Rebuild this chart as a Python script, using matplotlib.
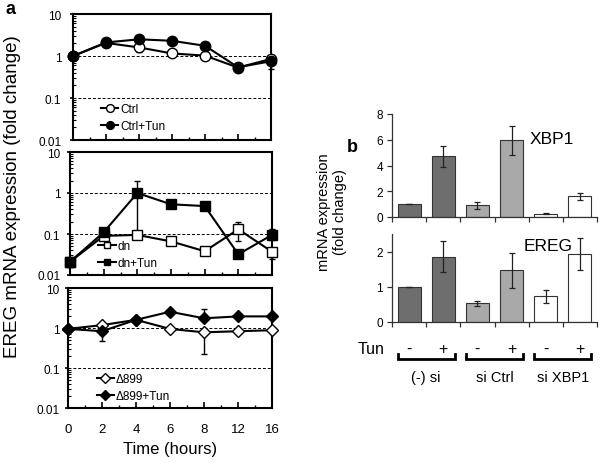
import numpy as np
import matplotlib
matplotlib.use("Agg")
import matplotlib.pyplot as plt
from matplotlib.ticker import FixedLocator, LogLocator, NullFormatter, FuncFormatter
from matplotlib.legend_handler import HandlerLine2D
import matplotlib.transforms as mtransforms

plt.rcParams['font.family'] = ['Liberation Sans', 'DejaVu Sans']

# ---- panel a data (time course, log scale) ----
time_labels = ["0", "2", "4", "6", "8", "12", "16"]

ctrl = [1.0, 2.05, 1.6, 1.15, 1.02, 0.53, 0.85]
ctrl_lo = [1.0, 2.05, 1.25, 1.15, 1.02, 0.53, 0.85]
ctrl_hi = [1.0, 2.05, 1.6, 1.15, 1.02, 0.53, 0.85]
ctrl_tun = [1.0, 2.1, 2.5, 2.3, 1.75, 0.54, 0.75]
ctrl_tun_lo = [1.0, 2.1, 2.5, 2.3, 1.75, 0.54, 0.5]
ctrl_tun_hi = [1.0, 2.1, 2.5, 2.3, 1.75, 0.54, 0.75]

dn = [0.021, 0.09, 0.095, 0.066, 0.038, 0.13, 0.037]
dn_lo = [0.021, 0.09, 0.095, 0.066, 0.038, 0.068, 0.025]
dn_hi = [0.021, 0.09, 0.095, 0.066, 0.038, 0.195, 0.037]
dn_tun = [0.021, 0.11, 1.0, 0.53, 0.48, 0.032, 0.095]
dn_tun_lo = [0.016, 0.11, 0.1, 0.53, 0.43, 0.027, 0.07]
dn_tun_hi = [0.021, 0.11, 1.95, 0.53, 0.48, 0.032, 0.13]

d899 = [0.95, 1.18, 1.6, 0.95, 0.78, 0.83, 0.88]
d899_lo = [0.95, 1.18, 1.6, 0.95, 0.22, 0.83, 0.88]
d899_hi = [0.95, 1.18, 1.6, 0.95, 0.78, 0.83, 0.88]
d899_tun = [0.95, 0.83, 1.6, 2.55, 1.75, 1.95, 1.95]
d899_tun_lo = [0.95, 0.48, 1.6, 2.55, 1.75, 1.95, 1.95]
d899_tun_hi = [0.95, 0.83, 1.6, 2.55, 3.0, 1.95, 1.95]

# ---- panel b data (bars) ----
bar_groups = ["(-) si", "si Ctrl", "si XBP1"]
tun_signs = ["-", "+", "-", "+", "-", "+"]
xbp1 = [1.0, 4.7, 0.9, 5.95, 0.25, 1.6]
xbp1_err = [0.0, 0.8, 0.3, 1.15, 0.05, 0.28]
ereg = [1.0, 1.85, 0.53, 1.47, 0.73, 1.93]
ereg_err = [0.0, 0.44, 0.08, 0.49, 0.18, 0.45]
bar_colors = ["#6e6e6e", "#6e6e6e", "#a9a9a9", "#a9a9a9", "#ffffff", "#ffffff"]

W, H = 600, 464
fig = plt.figure(figsize=(6.0, 4.64), dpi=100)


class MarkerAtEnd(HandlerLine2D):
    # legend handle drawn as "--o": marker near the right end of the line
    def get_xdata(self, legend, xdescent, ydescent, width, height, fontsize):
        xdata = np.array([-xdescent, -xdescent + width])
        return xdata, np.array([-xdescent + width * 0.78])


def px_axes(x0, y0, x1, y1):
    return fig.add_axes([x0 / W, 1 - y1 / H, (x1 - x0) / W, (y1 - y0) / H])


def log_panel(ax, series, legend_pos, ypad, show_x=False):
    x = np.arange(len(time_labels))
    ax.set_yscale("log")
    ax.set_ylim(0.01, 10)
    ax.set_xlim(0, len(time_labels) - 1)
    for yv in (0.1, 1):
        ax.axhline(yv, color="black", lw=0.7, ls=(0, (3, 2)), zorder=1)
    handles = []
    for vals, lo, hi, marker, filled, ms, label in series:
        vals = np.array(vals)
        yerr = [vals - np.array(lo), np.array(hi) - vals]
        ax.errorbar(x, vals, yerr=yerr, fmt="none", ecolor="black",
                    elinewidth=1.0, capsize=2, capthick=1.0, zorder=2, clip_on=False)
        h, = ax.plot(x, vals, color="black", lw=1.5, marker=marker, ms=ms,
                     mfc="black" if filled else "white", mec="black", mew=1.0,
                     zorder=3 if not filled else 4, clip_on=False, label=label)
        handles.append(h)
    ax.legend(handles=handles, loc="lower left", bbox_to_anchor=legend_pos,
              frameon=False, fontsize=8.5, handlelength=1.5, handletextpad=0.15,
              labelspacing=0.42, borderpad=0, borderaxespad=0, numpoints=1,
              markerscale=0.75, handler_map={h: MarkerAtEnd() for h in handles})
    for s in ax.spines.values():
        s.set_linewidth(1.5)
    ax.yaxis.set_major_locator(FixedLocator([0.01, 0.1, 1, 10]))
    ax.yaxis.set_major_formatter(FuncFormatter(lambda v, p: "%g" % v))
    ax.yaxis.set_minor_locator(LogLocator(base=10, subs=np.arange(2, 10)))
    ax.yaxis.set_minor_formatter(NullFormatter())
    ax.tick_params(axis="y", which="major", direction="out", length=2, width=1.2,
                   labelsize=8.5, pad=ypad)
    ax.tick_params(axis="y", which="minor", direction="in", length=2, width=0.8)
    ax.xaxis.set_major_locator(FixedLocator(x))
    ax.xaxis.set_minor_locator(FixedLocator(x[:-1] + 0.5))
    ax.tick_params(axis="x", which="major", direction="in", length=4, width=1.2,
                   labelsize=9.5, pad=11)
    ax.tick_params(axis="x", which="minor", direction="in", length=2.5, width=1.0)
    if show_x:
        ax.set_xticklabels(time_labels)
    else:
        ax.set_xticklabels([])


ax1 = px_axes(73, 15, 271, 141)
log_panel(ax1, [
    (ctrl, ctrl_lo, ctrl_hi, "o", False, 7.5, "Ctrl"),
    (ctrl_tun, ctrl_tun_lo, ctrl_tun_hi, "o", True, 7.5, "Ctrl+Tun"),
], (0.14, 0.06), 6.5)

ax2 = px_axes(70, 153, 272, 276)
log_panel(ax2, [
    (dn, dn_lo, dn_hi, "s", False, 6.5, "dn"),
    (dn_tun, dn_tun_lo, dn_tun_hi, "s", True, 6.5, "dn+Tun"),
], (0.14, 0.05), 5)

ax3 = px_axes(68, 289, 272, 409)
log_panel(ax3, [
    (d899, d899_lo, d899_hi, "D", False, 6.5, "\u0394899"),
    (d899_tun, d899_tun_lo, d899_tun_hi, "D", True, 6.5, "\u0394899+Tun"),
], (0.14, 0.05), 4, show_x=True)
ax3.set_xlabel("Time (hours)", fontsize=12, labelpad=4)

fig.text(13 / W, 1 - 197 / H, "EREG mRNA expression (fold change)", rotation=90,
         ha="center", va="center", fontsize=13.5)
fig.text(11 / W, 1 - 9 / H, "a", fontsize=13, fontweight="bold", ha="center", va="center")
fig.text(352 / W, 1 - 148 / H, "b", fontsize=13, fontweight="bold", ha="center", va="center")

# ---- panel b ----
def bar_panel(ax, vals, errs, ymax, yticks, title, title_xy):
    xb = np.arange(len(vals))
    ax.bar(xb, vals, width=0.67, color=bar_colors, edgecolor="#333333", linewidth=0.8,
           yerr=errs, error_kw=dict(ecolor="#222222", elinewidth=0.9, capsize=2, capthick=0.9))
    ax.set_xlim(-0.5, len(vals) - 0.5)
    ax.set_ylim(0, ymax)
    ax.set_yticks(yticks)
    ax.set_xticks(np.arange(len(vals) + 1) - 0.5)
    ax.set_xticklabels([])
    for side in ("top", "right"):
        ax.spines[side].set_visible(False)
    for side in ("left", "bottom"):
        ax.spines[side].set_linewidth(0.9)
        ax.spines[side].set_color("#333333")
    ax.tick_params(axis="both", direction="out", length=3.5, width=0.9, color="#333333",
                   labelsize=8.5, pad=3)
    ax.text(title_xy[0], title_xy[1], title, transform=ax.transAxes, fontsize=12.5,
            ha="left", va="center")
    return xb


axX = px_axes(392, 115, 597, 218)
bar_panel(axX, xbp1, xbp1_err, 8, [0, 2, 4, 6, 8], "XBP1", (0.67, 0.76))

axE = px_axes(392, 235, 597, 323)
xb = bar_panel(axE, ereg, ereg_err, 2.5, [0, 1, 2], "EREG", (0.64, 0.87))

fig.text(332 / W, 1 - 212 / H, "mRNA expression\n(fold change)", rotation=90,
         ha="center", va="center", fontsize=10.5, linespacing=1.1, multialignment="center")

# Tun row and group brackets under the bottom bar panel
trans = mtransforms.blended_transform_factory(axE.transData, axE.transAxes)
axE.text(-1.12, -0.30, "Tun", transform=trans, fontsize=11.5, ha="center", va="center")
for xi, s in zip(xb, tun_signs):
    axE.text(xi, -0.30, s, transform=trans, fontsize=11.5, ha="center", va="center")
for gi, name in enumerate(bar_groups):
    left, right = xb[2 * gi] - 0.33, xb[2 * gi + 1] + 0.33
    axE.plot([left, left, right, right], [-0.36, -0.42, -0.42, -0.36], transform=trans,
             color="black", lw=2.0, clip_on=False, solid_joinstyle="miter")
    axE.text((left + right) / 2, -0.62, name, transform=trans, fontsize=10.5,
             ha="center", va="center")

fig.savefig("out.png", dpi=100)
